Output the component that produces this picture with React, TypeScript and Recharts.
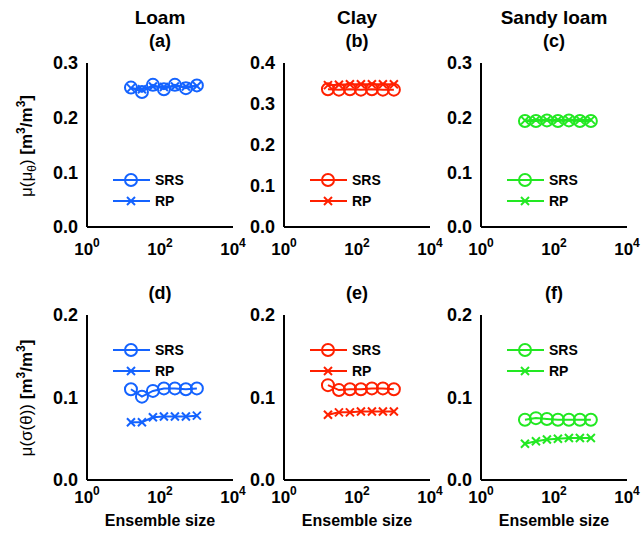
import React from 'react'
import { LineChart, Line, XAxis, YAxis, Legend } from 'recharts'

// ensemble sizes (x) shared by all panels
const ensembleSizes = [16, 32, 64, 128, 256, 512, 1024]

// mean of the mean soil moisture, m3/m3
const loamMeanSRS = [0.255, 0.247, 0.26, 0.252, 0.26, 0.254, 0.259]
const loamMeanRP = [0.254, 0.252, 0.257, 0.256, 0.257, 0.257, 0.258]
const clayMeanSRS = [0.336, 0.335, 0.336, 0.335, 0.336, 0.335, 0.335]
const clayMeanRP = [0.346, 0.347, 0.348, 0.348, 0.348, 0.348, 0.348]
const sandyMeanSRS = [0.194, 0.194, 0.195, 0.194, 0.195, 0.194, 0.194]
const sandyMeanRP = [0.195, 0.196, 0.196, 0.196, 0.196, 0.196, 0.196]

// mean of the std of soil moisture, m3/m3
const loamStdSRS = [0.11, 0.101, 0.108, 0.111, 0.111, 0.11, 0.111]
const loamStdRP = [0.07, 0.07, 0.076, 0.077, 0.077, 0.077, 0.078]
const clayStdSRS = [0.115, 0.109, 0.11, 0.11, 0.111, 0.111, 0.11]
const clayStdRP = [0.079, 0.082, 0.082, 0.083, 0.083, 0.083, 0.083]
const sandyStdSRS = [0.073, 0.075, 0.074, 0.073, 0.073, 0.073, 0.073]
const sandyStdRP = [0.044, 0.047, 0.049, 0.05, 0.051, 0.051, 0.051]

const xTicks = [1, 100, 10000]
const ticks03 = [0, 0.1, 0.2, 0.3]
const ticks04 = [0, 0.1, 0.2, 0.3, 0.4]
const ticks02 = [0, 0.1, 0.2]

const BLUE = '#1463ff'
const RED = '#ff2000'
const GREEN = '#22e822'
const FONT = '"Liberation Sans", Arial, Helvetica, sans-serif'

const PLOT_W = 146
const Y_AXIS_W = 60

const panels = [
  { id: 'a', title: 'Loam', left: 87, top: 63, h: 164, yMax: 0.3, ticks: ticks03, srs: loamMeanSRS, rp: loamMeanRP, color: BLUE, legendY: 180, tickDy: 28 },
  { id: 'b', title: 'Clay', left: 284, top: 63, h: 164, yMax: 0.4, ticks: ticks04, srs: clayMeanSRS, rp: clayMeanRP, color: RED, legendY: 180, tickDy: 28 },
  { id: 'c', title: 'Sandy loam', left: 481, top: 63, h: 164, yMax: 0.3, ticks: ticks03, srs: sandyMeanSRS, rp: sandyMeanRP, color: GREEN, legendY: 180, tickDy: 28 },
  { id: 'd', title: '', left: 87, top: 315, h: 165, yMax: 0.2, ticks: ticks02, srs: loamStdSRS, rp: loamStdRP, color: BLUE, legendY: 350, tickDy: 23 },
  { id: 'e', title: '', left: 284, top: 315, h: 165, yMax: 0.2, ticks: ticks02, srs: clayStdSRS, rp: clayStdRP, color: RED, legendY: 350, tickDy: 23 },
  { id: 'f', title: '', left: 481, top: 315, h: 165, yMax: 0.2, ticks: ticks02, srs: sandyStdSRS, rp: sandyStdRP, color: GREEN, legendY: 350, tickDy: 23 },
]

const circleDot = (color: string) => (props: any) => {
  const { cx, cy, index } = props
  if (cx == null || cy == null) return <g key={index} />
  return <circle key={index} cx={cx} cy={cy} r={6} fill="none" stroke={color} strokeWidth={2} />
}

const crossDot = (color: string) => (props: any) => {
  const { cx, cy, index } = props
  if (cx == null || cy == null) return <g key={index} />
  const s = 4
  return (
    <g key={index} stroke={color} strokeWidth={2}>
      <line x1={cx - s} y1={cy - s} x2={cx + s} y2={cy + s} />
      <line x1={cx - s} y1={cy + s} x2={cx + s} y2={cy - s} />
    </g>
  )
}

const PowerTick = ({ x, y, payload, dy }: any) => (
  <text x={x} y={y + dy} textAnchor="middle" fontFamily={FONT} fontWeight="bold" fontSize={17} fill="#000">
    10
    <tspan dy={-8} fontSize={12}>{Math.round(Math.log10(payload.value))}</tspan>
  </text>
)

function LegendBox({ color }: { color: string }) {
  return (
    <svg width={90} height={44} style={{ display: 'block' }}>
      <line x1={0} y1={10} x2={37} y2={10} stroke={color} strokeWidth={2} />
      <circle cx={18} cy={10} r={6} fill="none" stroke={color} strokeWidth={2} />
      <text x={42} y={15} fontFamily={FONT} fontWeight="bold" fontSize={14} fill="#000">SRS</text>
      <line x1={0} y1={31} x2={37} y2={31} stroke={color} strokeWidth={2} />
      <g stroke={color} strokeWidth={2}>
        <line x1={14} y1={27} x2={22} y2={35} />
        <line x1={14} y1={35} x2={22} y2={27} />
      </g>
      <text x={42} y={36} fontFamily={FONT} fontWeight="bold" fontSize={14} fill="#000">RP</text>
    </svg>
  )
}

function Panel(p: (typeof panels)[number]) {
  const data = ensembleSizes.map((n, i) => ({ n, srs: p.srs[i], rp: p.rp[i] }))
  const chartLeft = p.left - Y_AXIS_W
  const chartTop = p.top - 10
  return (
    <div style={{ position: 'absolute', left: chartLeft, top: chartTop }}>
      <LineChart
        width={Y_AXIS_W + PLOT_W + 14}
        height={10 + p.h + 40}
        data={data}
        margin={{ top: 10, right: 14, bottom: 0, left: 0 }}
        style={{ fontFamily: FONT }}
      >
        <XAxis
          dataKey="n"
          type="number"
          scale="log"
          domain={[1, 10000]}
          ticks={xTicks}
          allowDataOverflow
          height={40}
          tickLine={false}
          tickSize={0}
          tickMargin={0}
          axisLine={{ stroke: '#000', strokeWidth: 2 }}
          tick={<PowerTick dy={p.tickDy} />}
          interval={0}
        />
        <YAxis
          type="number"
          domain={[0, p.yMax]}
          ticks={p.ticks}
          width={Y_AXIS_W}
          tickLine={false}
          tickSize={0}
          tickMargin={9}
          axisLine={{ stroke: '#000', strokeWidth: 2 }}
          tickFormatter={(v: number) => v.toFixed(1)}
          tick={{ fontSize: 18, fontWeight: 'bold', fill: '#000', fontFamily: FONT }}
          interval={0}
        />
        <Legend
          layout="vertical"
          align="center"
          verticalAlign="middle"
          content={() => <LegendBox color={p.color} />}
          wrapperStyle={{ left: Y_AXIS_W + 26, top: p.legendY - 10 - chartTop, width: 90, height: 44 }}
        />
        <Line
          dataKey="srs"
          type="linear"
          stroke={p.color}
          strokeWidth={2}
          dot={circleDot(p.color)}
          isAnimationActive={false}
          legendType="circle"
          name="SRS"
        />
        <Line
          dataKey="rp"
          type="linear"
          stroke={p.color}
          strokeWidth={2}
          dot={crossDot(p.color)}
          isAnimationActive={false}
          legendType="cross"
          name="RP"
        />
      </LineChart>
    </div>
  )
}

function YLabel({ x, y, inner }: { x: number; y: number; inner: 'mean' | 'std' }) {
  return (
    <text transform={`translate(${x},${y}) rotate(-90)`} textAnchor="middle" fontFamily={FONT} fontSize={17} fill="#000">
      {inner === 'mean' ? (
        <>
          <tspan>μ(μ</tspan>
          <tspan dy={4} fontSize={12}>θ</tspan>
          <tspan dy={-4}>) </tspan>
        </>
      ) : (
        <tspan>μ(σ(θ)) </tspan>
      )}
      <tspan fontWeight="bold">[m</tspan>
      <tspan fontWeight="bold" dy={-7} fontSize={12}>3</tspan>
      <tspan fontWeight="bold" dy={7}>/m</tspan>
      <tspan fontWeight="bold" dy={-7} fontSize={12}>3</tspan>
      <tspan fontWeight="bold" dy={7}>]</tspan>
    </text>
  )
}

export default function App() {
  return (
    <div style={{ position: 'absolute', left: 0, top: 0, width: 641, height: 533, background: '#fff', overflow: 'hidden' }}>
      {panels.map((p) => (
        <Panel key={p.id} {...p} />
      ))}
      <svg width={641} height={533} style={{ position: 'absolute', left: 0, top: 0, pointerEvents: 'none' }}>
        {panels.map((p) => (
          <g key={p.id} fontFamily={FONT} fontWeight="bold" fill="#000" textAnchor="middle">
            {p.title && (
              <text x={p.left + PLOT_W / 2} y={24} fontSize={19}>{p.title}</text>
            )}
            <text x={p.left + PLOT_W / 2} y={p.top - 16} fontSize={18}>({p.id})</text>
            {p.top > 200 && (
              <text x={p.left + PLOT_W / 2} y={526} fontSize={16}>Ensemble size</text>
            )}
          </g>
        ))}
        <YLabel x={32} y={146} inner="mean" />
        <YLabel x={32} y={398} inner="std" />
      </svg>
    </div>
  )
}
